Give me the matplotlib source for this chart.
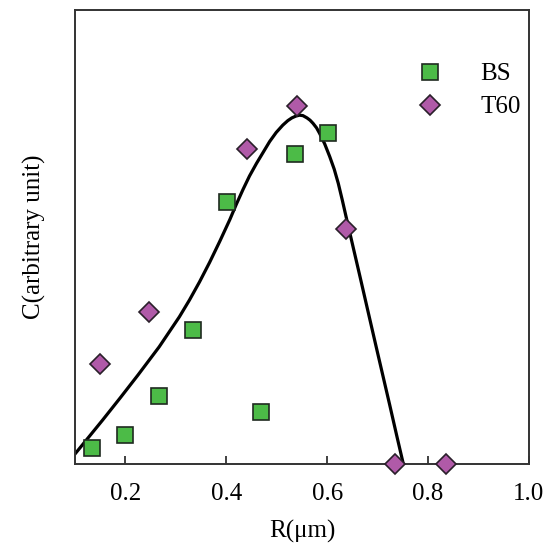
import numpy as np
import matplotlib.pyplot as plt

plt.rcParams['font.family'] = ['Liberation Serif', 'DejaVu Serif']

# BS (squares)
bs_r = [0.134, 0.200, 0.267, 0.334, 0.402, 0.469, 0.536, 0.602]
bs_c = [0.035, 0.065, 0.150, 0.294, 0.577, 0.115, 0.683, 0.728]

# T60 (diamonds)
t60_r = [0.149, 0.246, 0.442, 0.540, 0.638, 0.735, 0.835]
t60_c = [0.220, 0.334, 0.694, 0.789, 0.518, 0.000, 0.000]

# fitted curve
fit_r = [0.100, 0.155, 0.190, 0.225, 0.267, 0.307, 0.327, 0.347, 0.367,
         0.387, 0.407, 0.420, 0.433, 0.446, 0.460, 0.473, 0.486, 0.499,
         0.512, 0.522, 0.530, 0.538, 0.545, 0.552, 0.560, 0.566, 0.572,
         0.579, 0.585, 0.595, 0.605, 0.614, 0.622, 0.630, 0.638, 0.652,
         0.665, 0.682, 0.698, 0.711, 0.724, 0.738, 0.751]
fit_c = [0.022, 0.097, 0.146, 0.196, 0.258, 0.324, 0.361, 0.401, 0.444,
         0.490, 0.538, 0.572, 0.604, 0.634, 0.662, 0.686, 0.710, 0.730,
         0.746, 0.756, 0.762, 0.766, 0.768, 0.767, 0.762, 0.757, 0.750,
         0.740, 0.728, 0.705, 0.677, 0.649, 0.618, 0.581, 0.542, 0.475,
         0.413, 0.331, 0.254, 0.192, 0.130, 0.062, 0.000]

fig = plt.figure(figsize=(5.47, 5.44), dpi=100)
ax = fig.add_axes([0.137, 0.147, 0.830, 0.835])

ax.plot(fit_r, fit_c, color='black', lw=2.3, zorder=2,
        solid_joinstyle='round')
ax.plot(bs_r, bs_c, 's', ms=11, mfc='#4cbb47', mec='#1f2a20', mew=1.2,
        ls='none', label='BS', clip_on=False, zorder=3)
ax.plot(t60_r, t60_c, 'D', ms=9.8, mfc='#b05aa8', mec='#2a1f2a', mew=1.2,
        ls='none', label='T60', clip_on=False, zorder=3)

ax.set_xlim(0.1, 1.0)
ax.set_ylim(0, 1)
ax.set_xticks([0.2, 0.4, 0.6, 0.8, 1.0])
ax.set_xticklabels(['0.2', '0.4', '0.6', '0.8', '1.0'])
ax.set_yticks([])
ax.tick_params(axis='x', direction='in', length=6, width=1.3, color='#333333',
               labelsize=18, pad=14)
for s in ax.spines.values():
    s.set_color('#333333')
    s.set_linewidth(1.4)

ax.set_xlabel('R(μm)', fontsize=18)
ax.xaxis.set_label_coords(0.5, -0.123)
ax.set_ylabel('C(arbitrary unit)', fontsize=18)
ax.yaxis.set_label_coords(-0.064, 0.5)

ax.legend(loc='upper right', bbox_to_anchor=(1.015, 0.916), frameon=False,
          fontsize=18, handletextpad=1.0, labelspacing=0.42, borderaxespad=0.2)

fig.savefig('out.png', dpi=100)
